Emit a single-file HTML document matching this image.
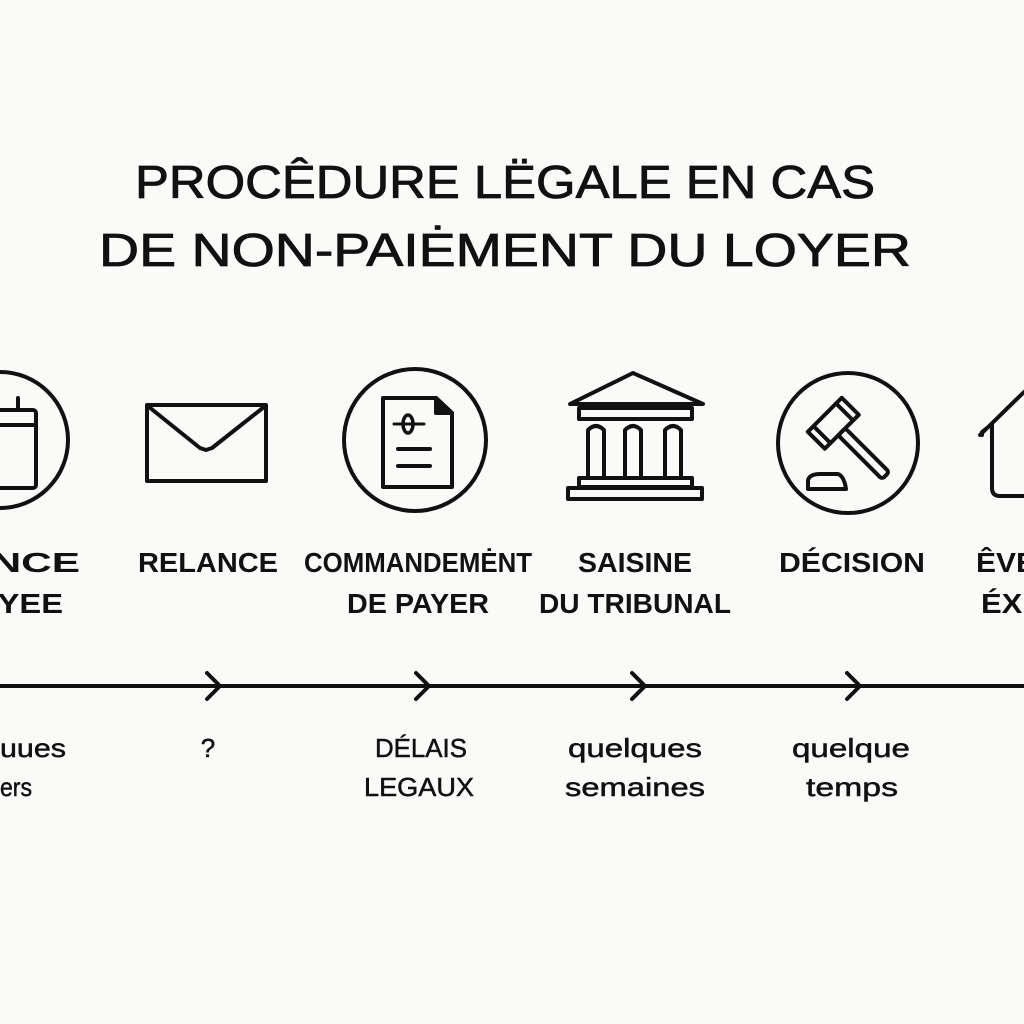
<!DOCTYPE html>
<html><head><meta charset="utf-8"><style>
html,body{margin:0;padding:0;background:#fafaf8;}
svg{display:block}
text{font-family:"Liberation Sans",sans-serif;fill:#111}
</style></head><body>
<svg width="1024" height="1024" viewBox="0 0 1024 1024">
<rect width="1024" height="1024" fill="#fafaf8"/>
<g font-size="46" font-weight="normal" text-anchor="middle" stroke="#111" stroke-width="0.8">
<text x="505" y="198" textLength="740" lengthAdjust="spacingAndGlyphs">PROCÊDURE LËGALE EN CAS</text>
<text x="505" y="266" textLength="812" lengthAdjust="spacingAndGlyphs">DE NON-PAIĖMENT  DU  LOYER</text>
</g>
<g fill="none" stroke="#111" stroke-width="4" stroke-linejoin="round" stroke-linecap="round">
<circle cx="0" cy="440" r="68"/>
<rect x="-30" y="410" width="66" height="78" rx="3"/>
<line x1="-30" y1="425" x2="36" y2="425"/>
<line x1="18" y1="398" x2="18" y2="410"/>
<rect x="147" y="405" width="119" height="76"/>
<polyline points="149,407 200,448 206,450 212,448 264,407"/>
<circle cx="415" cy="440" r="71"/>
<path d="M383 398 H436 L452 413 V487 H383 Z"/>
<path d="M436 398 L452 413 H436 Z" fill="#111"/>
<line x1="398" y1="449" x2="430" y2="449"/>
<line x1="398" y1="466" x2="430" y2="466"/>
<line x1="394" y1="424" x2="424" y2="424" stroke-width="3"/>
<ellipse cx="408" cy="424" rx="5" ry="9" stroke-width="3.5"/>
<path d="M570 404 L633 373 L703 404 Z"/>
<rect x="579" y="408" width="113" height="11"/>
<path d="M588 476 V430 Q596 422 604 430 V476"/>
<path d="M625 476 V430 Q633 422 641 430 V476"/>
<path d="M665 476 V430 Q673 422 681 430 V476"/>
<rect x="579" y="478" width="113" height="9"/>
<rect x="568" y="488" width="134" height="11"/>
<circle cx="848" cy="443" r="70"/>
<g transform="translate(834,424) rotate(-45)">
<rect x="-24" y="-13" width="48" height="24"/>
<line x1="-16" y1="-13" x2="-16" y2="11"/>
<line x1="16" y1="-13" x2="16" y2="11"/>
<rect x="-5" y="11" width="10" height="62" rx="3"/>
</g>
<path d="M808 489 V480 Q810 474 820 474 H838 Q844 476 846 489 Z"/>
<path d="M980 435 L1024 392 M982 435 V432 L992 424 V488 Q992 496 1000 496 H1024"/>
<line x1="0" y1="686" x2="1024" y2="686" stroke-width="4"/>
<polyline points="207,673 220,686 207,699"/>
<polyline points="416,673 429,686 416,699"/>
<polyline points="632,673 645,686 632,699"/>
<polyline points="847,673 860,686 847,699"/>
</g>
<g font-size="28" font-weight="bold" text-anchor="middle">
<text x="20" y="572" textLength="120" lengthAdjust="spacingAndGlyphs">ANCE</text>
<text x="20" y="613" textLength="86" lengthAdjust="spacingAndGlyphs">AYEE</text>
<text x="208" y="572" textLength="140" lengthAdjust="spacingAndGlyphs">RELANCE</text>
<text x="418" y="572" textLength="228" lengthAdjust="spacingAndGlyphs">COMMANDEMĖNT</text>
<text x="418" y="613" textLength="142" lengthAdjust="spacingAndGlyphs">DE PAYER</text>
<text x="635" y="572" textLength="114" lengthAdjust="spacingAndGlyphs">SAISINE</text>
<text x="635" y="613" textLength="192" lengthAdjust="spacingAndGlyphs">DU TRIBUNAL</text>
<text x="852" y="572" textLength="146" lengthAdjust="spacingAndGlyphs">DÉCISION</text>
<text x="976" y="572" text-anchor="start" textLength="60" lengthAdjust="spacingAndGlyphs">ÊVE</text>
<text x="981" y="613" text-anchor="start" textLength="50" lengthAdjust="spacingAndGlyphs">ÉXI</text>
</g>
<g font-size="26" text-anchor="middle" stroke="#111" stroke-width="0.5">
<text x="33" y="757" textLength="66" lengthAdjust="spacingAndGlyphs">uues</text>
<text x="16" y="796" textLength="32" lengthAdjust="spacingAndGlyphs">ers</text>
<text x="208" y="757">?</text>
<text x="421" y="757" textLength="92" lengthAdjust="spacingAndGlyphs">DÉLAIS</text>
<text x="419" y="796" textLength="110" lengthAdjust="spacingAndGlyphs">LEGAUX</text>
<text x="635" y="757" textLength="134" lengthAdjust="spacingAndGlyphs">quelques</text>
<text x="635" y="796" textLength="140" lengthAdjust="spacingAndGlyphs">semaines</text>
<text x="851" y="757" textLength="118" lengthAdjust="spacingAndGlyphs">quelque</text>
<text x="852" y="796" textLength="92" lengthAdjust="spacingAndGlyphs">temps</text>
</g>
</svg>
</body></html>
